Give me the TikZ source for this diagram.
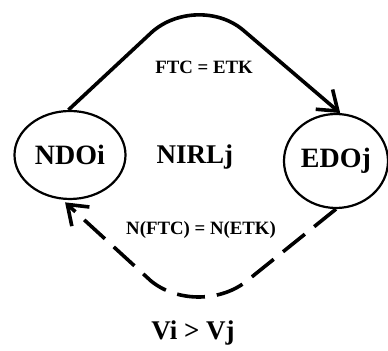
\documentclass[tikz,border=0pt]{standalone}
\usepackage{fontspec}
\setmainfont{Liberation Serif}
\usetikzlibrary{shapes.geometric,arrows.meta}

\tikzstyle{oblock} = [ellipse, draw, line width=1.1pt, inner sep=0pt, font=\fontsize{14}{16}\selectfont\bfseries]
\tikzstyle{mtext} = [inner sep=0pt, anchor=base, font=\fontsize{13.5}{15}\selectfont\bfseries]
\tikzstyle{stext} = [inner sep=0pt, anchor=base, font=\fontsize{9.4}{11}\selectfont\bfseries]
\tikzstyle{arrow} = [line width=1.8pt, -{Straight Barb[length=9pt,width=13pt,line width=1.8pt]}]

\begin{document}
\begin{tikzpicture}[x=0.5pt, y=-0.5pt]
    \useasboundingbox (0,0) rectangle (388,351);
    \node (ndoi) [oblock, minimum width=55.5pt, minimum height=44pt] at (70,155) {NDOi};
    \node (edoj) [oblock, minimum width=52pt, minimum height=47pt] at (336,161) {EDOj};
    \node (nirl) [mtext] at (195,164) {NIRLj};
    \node (ftc) [stext] at (204,74) {FTC = ETK};
    \node (nftc) [stext] at (201,235) {N(FTC) = N(ETK)};
    \node (vij) [mtext] at (193,340) {Vi > Vj};
    % top: solid, bottom: dashed
    \draw [arrow] (ndoi.92) -- (152,32) .. controls (177,10) and (218,9) .. (243,30) -- (edoj.85);
    \draw [arrow, dash pattern=on 14pt off 6pt, shorten >=2pt] (edoj.-90) -- (248,280) .. controls (222,302) and (178,303) .. (151,281) -- (ndoi.-100);
\end{tikzpicture}
\end{document}
